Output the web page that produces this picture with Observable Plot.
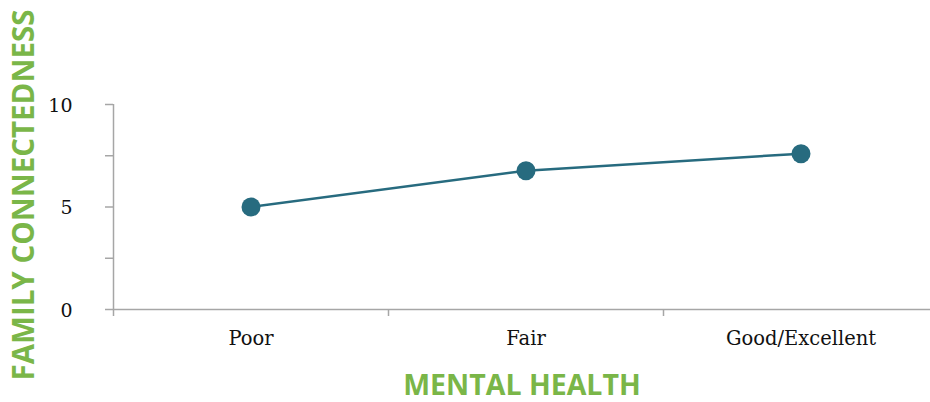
<!DOCTYPE html>
<html>
<head>
<meta charset="utf-8">
<script src="https://cdn.jsdelivr.net/npm/d3@7"></script>
<script src="https://cdn.jsdelivr.net/npm/@observablehq/plot@0.6"></script>
<style>
  html, body { margin: 0; padding: 0; background: #fff; }
  svg { display: block; }
</style>
</head>
<body>
<div id="chart"></div>
<script>
const categories = ["Poor", "Fair", "Good/Excellent"];
const values = [5.0, 6.77, 7.6];
const yTicksAll = [0, 2.5, 5, 7.5, 10];
const yTickLabels = [0, 5, 10];
const xTitle = "MENTAL HEALTH";
const yTitle = "FAMILY CONNECTEDNESS";

const data = categories.map((c, i) => ({i, c, v: values[i]}));
const boundaries = categories.map((c, i) => i - 0.5);

const green = "#7ab648";
const teal = "#276b7f";
const gray = "#a6a6a6";
const serif = "'DejaVu Serif', serif";
const sans = "'Open Sans', sans-serif";

const chart = Plot.plot({
  width: 930,
  height: 402,
  marginLeft: 113,
  marginRight: 0,
  marginTop: 104,
  marginBottom: 93,
  style: {background: "#fff", overflow: "visible"},
  x: {type: "linear", domain: [-0.5, categories.length - 0.5], range: [113, 938]},
  y: {domain: [0, 10]},
  marks: [
    Plot.ruleY([0], {stroke: gray, strokeWidth: 1.5}),
    Plot.ruleX([-0.5], {y1: 0, y2: 10, stroke: gray, strokeWidth: 1.5}),
    Plot.axisY({ticks: yTicksAll, tickSize: 8, tickFormat: () => "", stroke: gray, strokeWidth: 1.5, label: null}),
    Plot.axisY({ticks: yTickLabels, tickSize: 0, tickPadding: 41, fontSize: 19, fontFamily: serif, fill: "#111", label: null, dy: 1}),
    Plot.axisX({ticks: boundaries, tickSize: 7, tickFormat: () => "", stroke: gray, strokeWidth: 1.5, label: null}),
    Plot.axisX({ticks: categories.map((c, i) => i), tickSize: 0, tickPadding: 22, tickFormat: i => categories[i], fontSize: 19.5, fontFamily: serif, fill: "#111", label: null}),
    Plot.line(data, {x: "i", y: "v", stroke: teal, strokeWidth: 2.5}),
    Plot.dot(data, {x: "i", y: "v", r: 9.5, fill: teal, stroke: null}),
    Plot.text([xTitle], {frameAnchor: "bottom", lineAnchor: "bottom", dy: 85, fontSize: 28.5, fontWeight: "bold", fontFamily: sans, fill: green}),
    Plot.text([yTitle], {frameAnchor: "left", rotate: -90, textAnchor: "middle", lineAnchor: "middle", dx: -89, dy: -12, fontSize: 29.5, fontWeight: "bold", fontFamily: sans, fill: green})
  ]
});
document.getElementById("chart").appendChild(chart);
</script>
</body>
</html>
